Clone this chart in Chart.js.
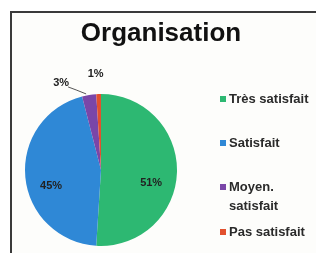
<!DOCTYPE html>
<html>
<head>
<meta charset="utf-8">
<script src="https://cdn.jsdelivr.net/npm/chart.js@4"></script>
<style>
  html, body { margin: 0; padding: 0; background: #fff; }
  #wrap { width: 316px; height: 253px; }
</style>
</head>
<body>
<div id="wrap"><canvas id="pieChart" width="316" height="253"></canvas></div>
<script>
// données
var titleText = 'Organisation';
var categories = ['Très satisfait', 'Satisfait', 'Moyen. satisfait', 'Pas satisfait'];
var legendLines = [['Très satisfait'], ['Satisfait'], ['Moyen.', 'satisfait'], ['Pas satisfait']];
var values = [51, 45, 3, 1];
var colors = ['#2db872', '#2f88d6', '#7a46a8', '#e2502e'];

// fond + cadre + titre
var framePlugin = {
    id: 'frame',
    beforeDraw: function(chart) {
        var ctx = chart.ctx;
        ctx.save();
        ctx.fillStyle = '#ffffff';
        ctx.fillRect(0, 0, chart.width, chart.height);
        ctx.fillStyle = '#fdfdfb';
        ctx.fillRect(12, 13, chart.width, chart.height);
        ctx.strokeStyle = '#3a3a3a';
        ctx.lineWidth = 2;
        ctx.strokeRect(11, 12, chart.width + 20, chart.height + 20);
        ctx.fillStyle = '#111';
        ctx.font = 'bold 26px "Liberation Sans", Arial, sans-serif';
        ctx.textAlign = 'center';
        ctx.textBaseline = 'middle';
        ctx.fillText(titleText, 161, 34);
        ctx.restore();
    }
};

// étiquettes des pourcentages
var labelPlugin = {
    id: 'pctLabels',
    afterDatasetsDraw: function(chart) {
        var ctx = chart.ctx;
        var meta = chart.getDatasetMeta(0);
        ctx.save();
        ctx.font = 'bold 11px "Liberation Sans", Arial, sans-serif';
        ctx.fillStyle = '#222';
        ctx.textAlign = 'center';
        ctx.textBaseline = 'middle';
        meta.data.forEach(function(arc, i) {
            var txt = values[i] + '%';
            var mid = (arc.startAngle + arc.endAngle) / 2;
            var r = arc.outerRadius;
            if (values[i] >= 10) {
                ctx.fillText(txt, arc.x + Math.cos(mid) * r * 0.66, arc.y + Math.sin(mid) * r * 0.66 + 11);
            } else {
                var ex = arc.x + Math.cos(mid) * r;
                var ey = arc.y + Math.sin(mid) * r;
                if (i === 2) {
                    // étiquette décalée avec trait de rappel
                    var lx = ex - 28, ly = ey - 12;
                    ctx.strokeStyle = '#555';
                    ctx.lineWidth = 1;
                    ctx.beginPath();
                    ctx.moveTo(lx + 7, ly + 4);
                    ctx.lineTo(lx + 15, ly + 7);
                    ctx.lineTo(ex - 3, ey - 1);
                    ctx.stroke();
                    ctx.fillText(txt, lx, ly);
                } else {
                    ctx.fillText(txt, ex - 3, ey - 20);
                }
            }
        });
        ctx.restore();
    }
};

// légende à droite
var legendPlugin = {
    id: 'sideLegend',
    afterDraw: function(chart) {
        var ctx = chart.ctx;
        var ys = [99, 143, 187, 232];
        ctx.save();
        ctx.font = 'bold 13px "Liberation Sans", Arial, sans-serif';
        ctx.textBaseline = 'middle';
        ctx.textAlign = 'left';
        legendLines.forEach(function(lines, i) {
            ctx.fillStyle = colors[i];
            ctx.fillRect(220, ys[i] - 3, 6, 6);
            ctx.fillStyle = '#2a2a2a';
            lines.forEach(function(line, j) {
                ctx.fillText(line, 229, ys[i] + j * 19);
            });
        });
        ctx.restore();
    }
};

const ctx = document.getElementById('pieChart').getContext('2d');
new Chart(ctx, {
    type: 'pie',
    data: {
        labels: categories,
        datasets: [{
            data: values,
            backgroundColor: colors,
            borderWidth: 0
        }]
    },
    options: {
        responsive: false,
        animation: false,
        layout: {
            padding: { left: 25, right: 139, top: 94, bottom: 7 }
        },
        plugins: {
            legend: { display: false },
            tooltip: { enabled: false },
            title: { display: false }
        }
    },
    plugins: [framePlugin, labelPlugin, legendPlugin]
});
</script>
</body>
</html>
